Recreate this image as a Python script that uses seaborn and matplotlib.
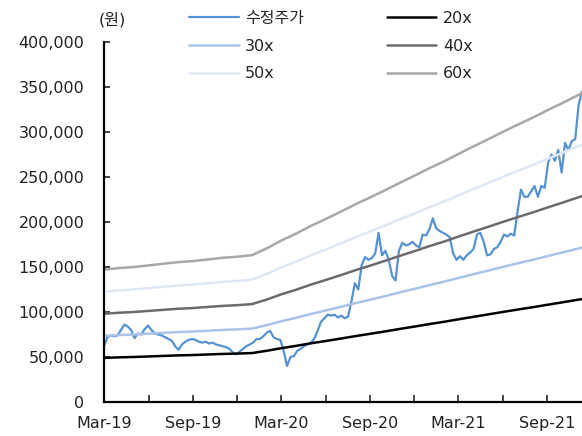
import numpy as np
import pandas as pd
import seaborn as sns
import matplotlib.pyplot as plt
import matplotlib.dates as mdates
from matplotlib.ticker import FuncFormatter

# weekly adjusted close, thousand won
price_k = [62, 72, 74, 73, 74, 80, 86, 84, 80, 71, 76, 75, 81, 85, 80, 76, 75, 74, 72, 70,
           68, 62, 58, 64, 67, 69, 70, 69, 67, 66, 67, 65, 66, 64, 63, 62, 61, 59, 55, 53,
           56, 59, 62, 64, 66, 70, 70, 73, 77, 79, 72, 70, 69, 57, 40, 50, 51, 57, 59, 62,
           64, 66, 70, 79, 89, 93, 97, 96, 97, 94, 96, 93, 95, 112, 132, 125, 152, 161, 158, 160,
           165, 188, 163, 168, 158, 140, 135, 168, 177, 174, 175, 178, 174, 172, 186, 185, 192, 204, 193, 190,
           188, 186, 183, 165, 158, 162, 158, 163, 166, 170, 186, 188, 178, 163, 164, 170, 172, 178, 186, 184,
           187, 185, 212, 236, 228, 228, 234, 240, 228, 240, 238, 266, 275, 268, 280, 255, 288, 280, 290, 292,
           330, 345]

# monthly EPS used for the PER bands (won)
eps = [2450, 2480, 2500, 2530, 2560, 2590, 2610, 2640, 2670, 2690, 2720, 2850, 2990, 3120,
       3260, 3390, 3520, 3660, 3790, 3920, 4060, 4190, 4330, 4460, 4590, 4730, 4860, 5000,
       5130, 5260, 5400, 5530, 5670, 5800]

multiples = [20, 30, 40, 50, 60]
band_labels = ["20x", "30x", "40x", "50x", "60x"]
band_colors = ["#000000", "#a9c3ea", "#6b6b6b", "#dfe7f6", "#a8a8a8"]

price_dates = pd.date_range("2019-03-01", periods=len(price_k), freq="7D")
eps_dates = pd.date_range("2019-03-01", periods=len(eps), freq="MS")

price_df = pd.DataFrame({"date": price_dates, "price": np.array(price_k) * 1000})
band_df = pd.DataFrame({"date": eps_dates, "eps": eps})

sns.set_style("ticks")
plt.rcParams["font.family"] = ["DejaVu Sans", "Noto Sans CJK KR"]

fig = plt.figure(figsize=(5.82, 4.36), dpi=100)
ax = fig.add_axes([104 / 582, 34 / 436, 478 / 582, 360 / 436])

sns.lineplot(data=price_df, x="date", y="price", ax=ax, color="#5592d2", lw=1.6, label="수정주가")
for m, lab, col in zip(multiples, band_labels, band_colors):
    sns.lineplot(x=band_df["date"], y=band_df["eps"] * m, ax=ax, color=col, lw=1.8, label=lab)

ax.set_xlim(pd.Timestamp("2019-03-01"), pd.Timestamp("2021-11-12"))
ax.set_ylim(0, 400000)
ax.set_yticks(np.arange(0, 400001, 50000))
ax.yaxis.set_major_formatter(FuncFormatter(lambda v, p: f"{int(v):,}"))
ax.xaxis.set_major_locator(mdates.MonthLocator(bymonth=[3, 9]))
ax.xaxis.set_minor_locator(mdates.MonthLocator(bymonth=[6, 12]))
ax.xaxis.set_major_formatter(mdates.DateFormatter("%b-%y"))
ax.set_xlabel("")
ax.set_ylabel("")

for s in ["top", "right"]:
    ax.spines[s].set_visible(False)
for s in ["left", "bottom"]:
    ax.spines[s].set_linewidth(1.6)
    ax.spines[s].set_color("black")

ax.tick_params(axis="y", direction="in", length=4, width=1.2, pad=14, labelsize=11.5, labelcolor="#222222")
ax.tick_params(axis="x", which="both", direction="in", length=5, width=1.2, pad=10, labelsize=11.5,
               labelcolor="#222222")

ax.text(0.017, 1.062, "(원)", transform=ax.transAxes, ha="center", va="center", fontsize=11.5, color="#222222")

h, l = ax.get_legend_handles_labels()
order = [0, 2, 4, 1, 3, 5]
ax.legend([h[i] for i in order], [l[i] for i in order], ncol=2, frameon=False,
          loc="upper left", bbox_to_anchor=(189 / 582, 0.975), bbox_transform=fig.transFigure,
          borderaxespad=0, borderpad=0, handlelength=3.1, handletextpad=0.4,
          columnspacing=5.2, labelspacing=0.8, fontsize=11.5)

fig.savefig("out.png", dpi=100)
